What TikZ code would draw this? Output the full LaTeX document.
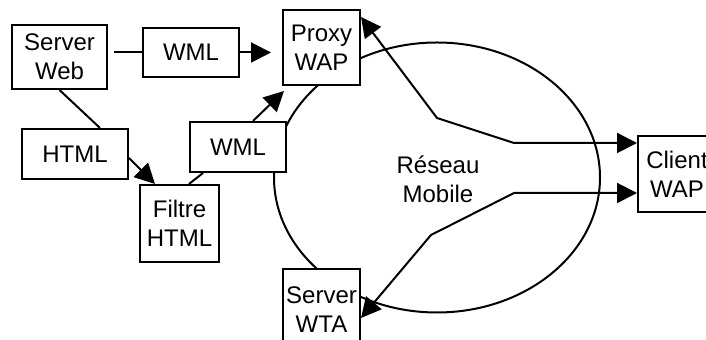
\documentclass[tikz,border=0pt]{standalone}
\usepackage{fontspec}
\setmainfont{Liberation Sans}
\usetikzlibrary{arrows.meta, positioning, calc}

\begin{document}
\begin{tikzpicture}[x=0.5pt, y=-0.5pt, line width=1pt,
  box/.style={draw, fill=white, align=center, inner sep=0pt, font=\fontsize{12}{14.5}\selectfont},
  tip/.style={-{Triangle[length=10pt, width=10pt]}},
  tips/.style={{Triangle[length=10pt, width=10pt]}-{Triangle[length=10pt, width=10pt]}}]
  \useasboundingbox (0,0) rectangle (706,340);
  % Mobile network
  \draw (437,177.5) ellipse [x radius=163, y radius=135];
  \node[font=\fontsize{12}{14.5}\selectfont, align=center] (reseau) at (438,179) {Réseau\\Mobile};
  % Boxes
  \node[box, minimum width=47.5pt, minimum height=32pt] (web) at (59.5,57) {Server\\Web};
  \node[box, minimum width=48pt, minimum height=24.5pt] (wmla) at (191,52.5) {WML};
  \node[box, minimum width=38.5pt, minimum height=37.5pt] (proxy) at (321.5,47.5) {Proxy\\WAP};
  \node[box, minimum width=53pt, minimum height=25pt] (html) at (75,154) {HTML};
  \node[box, minimum width=39.5pt, minimum height=38.5pt] (filtre) at (179.5,223.5) {Filtre\\HTML};
  \node[box, minimum width=48pt, minimum height=25pt] (wmlb) at (238,147) {WML};
  \node[box, minimum width=38.5pt, minimum height=41pt] (wta) at (321.5,310) {Server\\WTA};
  \node[box, minimum width=39pt, minimum height=38pt] (client) at (677,174) {Client\\WAP};
  % Web side
  \draw[shorten <=3pt] (web.east |- wmla.west) -- (wmla.west);
  \draw[tip, shorten >=5.5pt] (wmla.east) -- (proxy.west |- wmla.east);
  \draw (web.south) -- ([xshift=12.5pt]html.north);
  \draw[tip] ([yshift=-2pt]html.east) -- ([xshift=-12.25pt]filtre.north);
  \draw ([xshift=4.75pt]filtre.north) -- ([xshift=-17.5pt]wmlb.south);
  \draw[tip] ([xshift=7.5pt]wmlb.north) -- ([xshift=1pt, yshift=-2.5pt]proxy.south west);
  % Across the network
  \coordinate (p1) at (437,118);
  \coordinate (p2) at (514,143);
  \coordinate (q1) at (514,193);
  \coordinate (q2) at (431,235);
  \draw[tips] ([yshift=-4pt]proxy.north east) -- (p1) -- (p2) -- (client.west |- p2);
  \draw[tips] ([yshift=-4pt]wta.east) -- (q2) -- (q1) -- (client.west |- q1);
\end{tikzpicture}
\end{document}
